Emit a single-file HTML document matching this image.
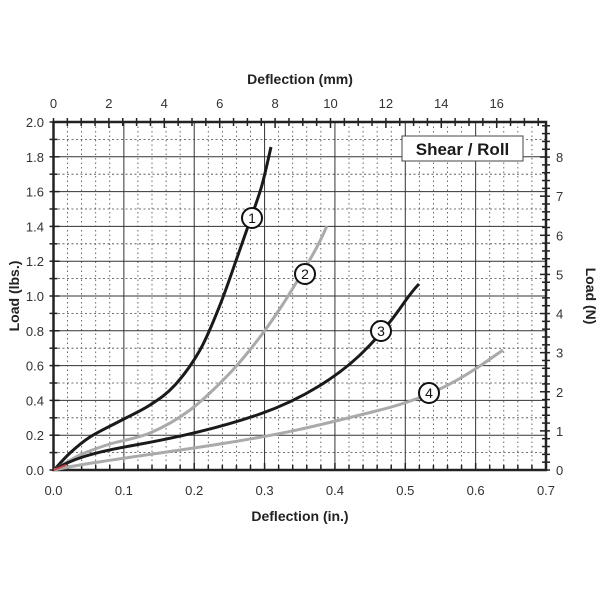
<!DOCTYPE html>
<html><head><style>body{margin:0;background:#fff}svg text{font-family:"Liberation Sans",sans-serif;fill:#333}</style></head>
<body>
<svg id="s" width="600" height="600" xmlns="http://www.w3.org/2000/svg"></svg>
<script>
const L=53.5,R=546,T=122,B=470;
const px=x=>L+x/0.7*(R-L), py=y=>B-y/2*(B-T);
function cr(p){let d=`M${p[0][0]},${p[0][1]}`;for(let i=0;i<p.length-1;i++){const p0=p[i-1]||p[i],p1=p[i],p2=p[i+1],p3=p[i+2]||p2;
d+=` C${p1[0]+(p2[0]-p0[0])/6},${p1[1]+(p2[1]-p0[1])/6} ${p2[0]-(p3[0]-p1[0])/6},${p2[1]-(p3[1]-p1[1])/6} ${p2[0]},${p2[1]}`;}return d;}
let h='';
for(let i=1;i<35;i++){if(i%5)h+=`<line x1="${px(i*0.02)}" y1="${T}" x2="${px(i*0.02)}" y2="${B}" stroke="#444" stroke-width="0.8" stroke-dasharray="1.5,3"/>`;}
for(let i=1;i<20;i++){if(i%2)h+=`<line x1="${L}" y1="${py(i*0.1)}" x2="${R}" y2="${py(i*0.1)}" stroke="#444" stroke-width="0.8" stroke-dasharray="2,2.5"/>`;}
for(let i=1;i<7;i++)h+=`<line x1="${px(i*0.1)}" y1="${T}" x2="${px(i*0.1)}" y2="${B}" stroke="#333" stroke-width="1"/>`;
for(let i=1;i<10;i++)h+=`<line x1="${L}" y1="${py(i*0.2)}" x2="${R}" y2="${py(i*0.2)}" stroke="#333" stroke-width="1"/>`;
h+=`<rect x="${L}" y="${T}" width="${R-L}" height="${B-T}" fill="none" stroke="#222" stroke-width="2.5"/>`;
for(let i=0;i<=35;i++){let x=px(i*0.02),l=i%5?5:7;h+=`<line x1="${x}" y1="${B-l}" x2="${x}" y2="${B}" stroke="#222" stroke-width="1.5"/>`;}
for(let i=0;i<=7;i++)h+=`<text x="${px(i*0.1)}" y="495" font-size="13" text-anchor="middle">${i?('0.'+i):'0.0'}</text>`;
for(let i=0;i<=20;i++){let y=py(i*0.1);h+=`<line x1="${L-4}" y1="${y}" x2="${L+(i%2?4:6)}" y2="${y}" stroke="#222" stroke-width="1.5"/>`;}
for(let i=0;i<=10;i++)h+=`<text x="44" y="${py(i*0.2)+5}" font-size="13" text-anchor="end">${(i*0.2).toFixed(1)}</text>`;
const mm=0.0393701;
for(let i=0;i<=35;i++){let v=i*0.5;if(v*mm>0.7)break;let x=px(v*mm);h+=`<line x1="${x}" y1="${T-4}" x2="${x}" y2="${T+(i%4?4:6)}" stroke="#222" stroke-width="1.5"/>`;}
for(let i=0;i<=16;i+=2)h+=`<text x="${px(i*mm)}" y="108" font-size="13" text-anchor="middle">${i}</text>`;
const N=0.224809;
for(let i=0;i<=44;i++){let v=i*0.2;if(v*N>2)break;let y=py(v*N);h+=`<line x1="${R-(i%5?4:6)}" y1="${y}" x2="${R+4}" y2="${y}" stroke="#222" stroke-width="1.5"/>`;}
for(let i=0;i<=8;i++)h+=`<text x="556" y="${py(i*N)+5}" font-size="13">${i}</text>`;
h+=`<text x="300" y="521" font-size="14" font-weight="bold" text-anchor="middle" style="fill:#222">Deflection (in.)</text>`;
h+=`<text x="300" y="84" font-size="14" font-weight="bold" text-anchor="middle" style="fill:#222">Deflection (mm)</text>`;
h+=`<text transform="translate(19,296) rotate(-90)" font-size="14" font-weight="bold" text-anchor="middle" style="fill:#222">Load (lbs.)</text>`;
h+=`<text transform="translate(586,296) rotate(90)" font-size="14" font-weight="bold" text-anchor="middle" style="fill:#222">Load (N)</text>`;
const C=[[cr([[54,470],[70,453],[90,437],[120,421],[150,405],[175,385],[200,350],[220,305],[238,255],[252,215],[262,185],[271,147]]),"#1a1a1a"],
[cr([[54,470],[80,455],[110,444],[150,433],[190,410],[230,373],[260,337],[283,304],[305,268],[318,245],[327,226]]),"#aaa"],
["M54,470 C70,460 90,453 130,446 S220,428 260,414 S340,377 370,345 S405,298 419,284","#1a1a1a"],
["M54,470 C90,462 150,455 220,444 S320,425 380,410 S470,373 503,350","#aaa"]];
for(const [d,c] of C)h+=`<path d="${d}" fill="none" stroke="${c}" stroke-width="3"/>`;
h+=`<path d="M54,470 L66,465" stroke="#c44" stroke-width="2"/>`;
[[252,218,1],[305,274,2],[381,331,3],[429,393,4]].forEach(([x,y,t])=>{h+=`<circle cx="${x}" cy="${y}" r="10" fill="#fff" stroke="#111" stroke-width="2"/><text x="${x}" y="${y+5}" font-size="14" text-anchor="middle" style="fill:#111">${t}</text>`;});
h+=`<rect x="402" y="136" width="121" height="25" fill="#fff" stroke="#444" stroke-width="1"/><text x="462.5" y="155" font-size="17" font-weight="bold" text-anchor="middle" style="fill:#1a1a1a">Shear / Roll</text>`;
document.getElementById('s').innerHTML=h;
</script>
</body></html>
